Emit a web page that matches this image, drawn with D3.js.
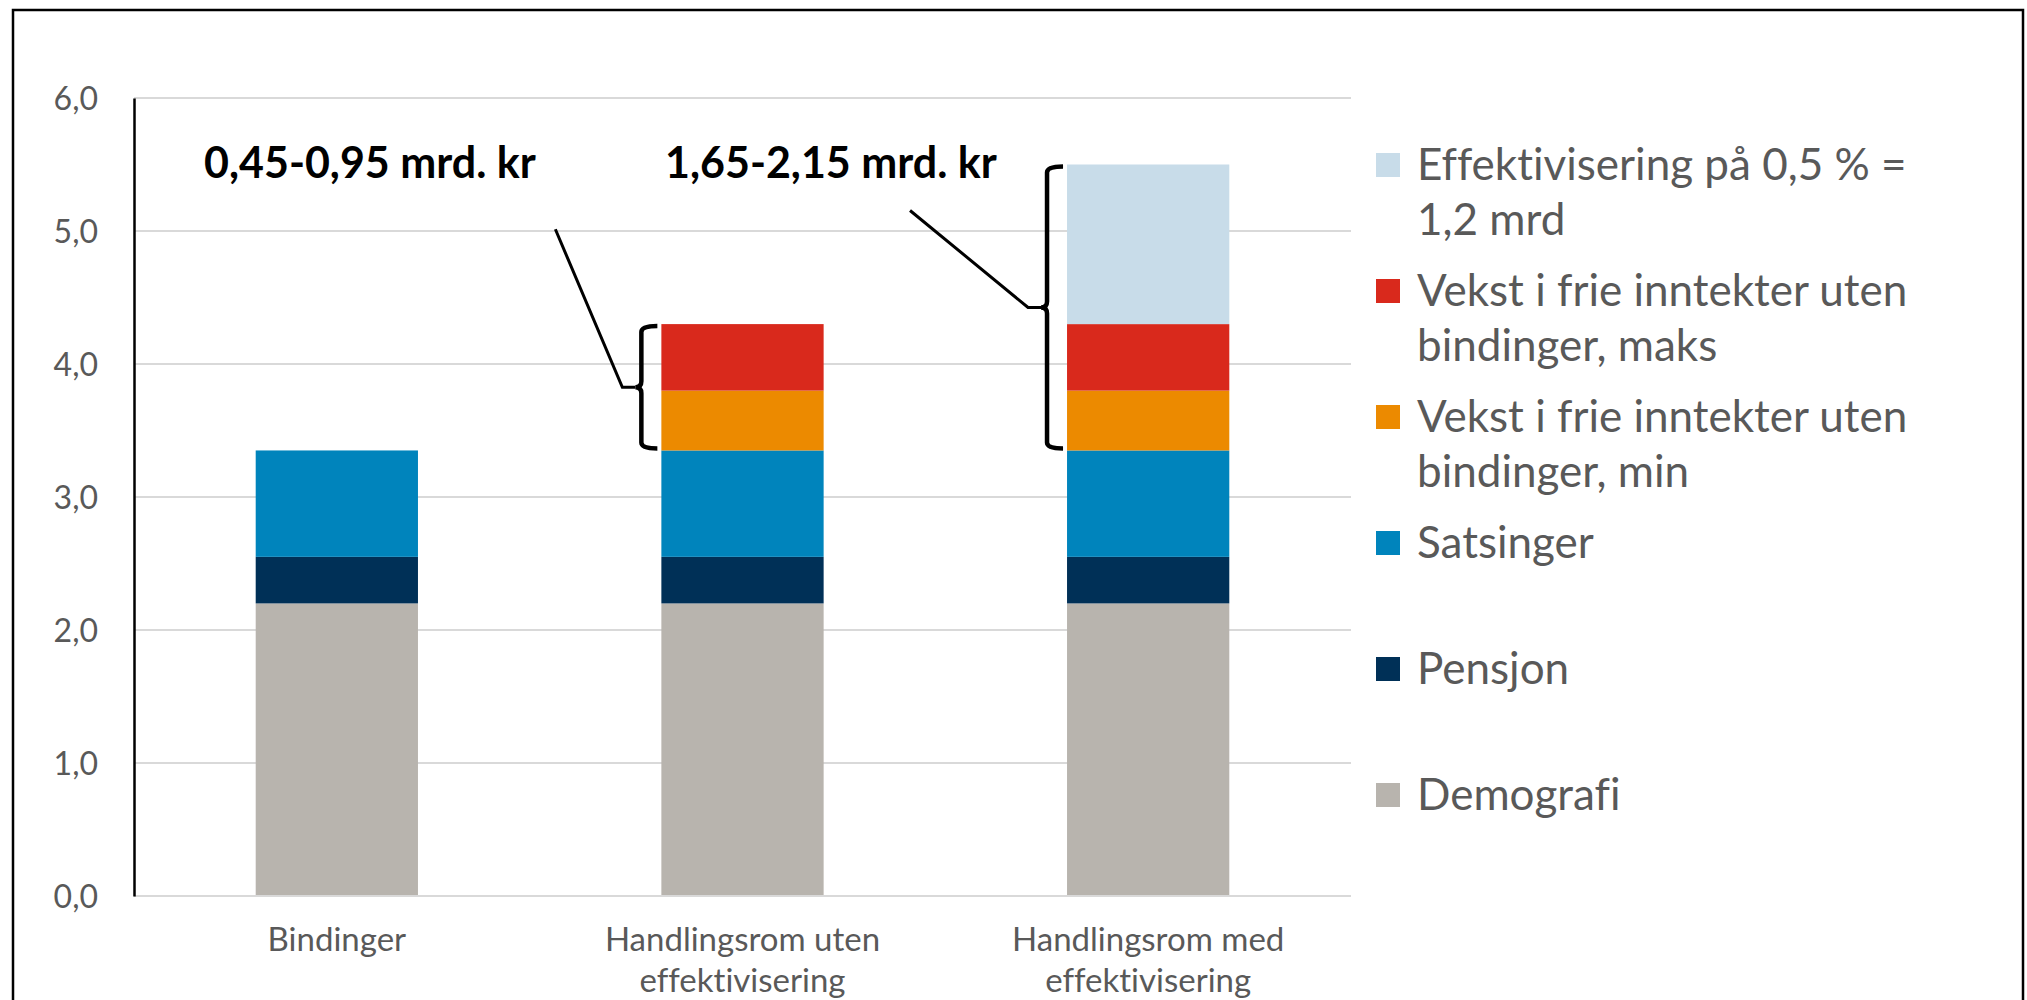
<!DOCTYPE html>
<html>
<head>
    <style>
        body {
            margin: 0;
            background: #fff;
        }
        text {
            font-family: Lato, "Open Sans", sans-serif;
            font-variant-ligatures: none;
        }
        .tick text {
            font-size: 32px;
            fill: #595959;
        }
        .cat text {
            font-size: 33px;
            fill: #595959;
            text-anchor: middle;
        }
        .legend text {
            font-size: 44px;
            fill: #595959;
        }
        .note {
            font-size: 43px;
            font-weight: bold;
            fill: #000;
        }
        .grid line {
            stroke: #d9d9d9;
            stroke-width: 2;
        }
    </style>
    <script src="https://d3js.org/d3.v7.min.js"></script>
</head>
<body>
    <svg width="2027" height="1000"></svg>

    <script>
        // data (mrd. kr)
        var categories = ["Bindinger", "Handlingsrom uten effektivisering", "Handlingsrom med effektivisering"];
        var categoryLines = [["Bindinger"], ["Handlingsrom uten", "effektivisering"], ["Handlingsrom med", "effektivisering"]];

        var demografi = [2.2, 2.2, 2.2];
        var pensjon = [0.35, 0.35, 0.35];
        var satsinger = [0.8, 0.8, 0.8];
        var vekstMin = [0, 0.45, 0.45];
        var vekstMaks = [0, 0.5, 0.5];
        var effektivisering = [0, 0, 1.2];

        var seriesKeys = ["demografi", "pensjon", "satsinger", "vekstMin", "vekstMaks", "effektivisering"];
        var seriesColors = ["#b8b4ae", "#003057", "#0084bc", "#ec8a00", "#d9291c", "#c8dce9"];
        // legend goes top to bottom, reverse of stacking order
        var legendLines = [
            ["Effektivisering på 0,5 % =", "1,2 mrd"],
            ["Vekst i frie inntekter uten", "bindinger, maks"],
            ["Vekst i frie inntekter uten", "bindinger, min"],
            ["Satsinger"],
            ["Pensjon"],
            ["Demografi"]
        ];

        var yTicks = [0, 1, 2, 3, 4, 5, 6];

        // brackets: category index, first and last series covered, label
        var notes = [
            { cat: 1, from: 3, to: 4, label: "0,45-0,95 mrd. kr" },
            { cat: 2, from: 3, to: 5, label: "1,65-2,15 mrd. kr" }
        ];

        var svg = d3.select("svg");

        // outer frame
        svg.append("rect")
           .attr("x", 13).attr("y", 10)
           .attr("width", 2010).attr("height", 1010)
           .attr("fill", "none")
           .attr("stroke", "#000")
           .attr("stroke-width", 2.5);

        var plotLeft = 134, plotRight = 1351, plotTop = 98, plotBottom = 896;

        var x = d3.scaleBand()
                  .domain(categories)
                  .range([plotLeft, plotRight])
                  .paddingInner(0.6)
                  .paddingOuter(0.3);

        var y = d3.scaleLinear()
                  .domain([0, 6])
                  .range([plotBottom, plotTop]);

        var table = categories.map(function(c, i) {
            return {
                cat: c,
                demografi: demografi[i],
                pensjon: pensjon[i],
                satsinger: satsinger[i],
                vekstMin: vekstMin[i],
                vekstMaks: vekstMaks[i],
                effektivisering: effektivisering[i]
            };
        });

        var stacked = d3.stack().keys(seriesKeys)(table);

        // gridlines
        svg.append("g")
           .attr("class", "grid")
           .selectAll("line")
           .data(yTicks)
           .enter().append("line")
           .attr("x1", plotLeft).attr("x2", plotRight)
           .attr("y1", function(d) { return y(d); })
           .attr("y2", function(d) { return y(d); });

        // bars
        svg.append("g")
           .selectAll("g")
           .data(stacked)
           .enter().append("g")
           .attr("fill", function(d, i) { return seriesColors[i]; })
           .selectAll("rect")
           .data(function(d) { return d; })
           .enter().append("rect")
           .attr("x", function(d) { return x(d.data.cat); })
           .attr("width", x.bandwidth())
           .attr("y", function(d) { return y(d[1]); })
           .attr("height", function(d) { return y(d[0]) - y(d[1]); });

        // baseline on top of bars
        svg.append("line")
           .attr("x1", plotLeft).attr("x2", plotRight)
           .attr("y1", y(0)).attr("y2", y(0))
           .attr("stroke", "#d9d9d9")
           .attr("stroke-width", 2);

        // y axis
        var yAxis = d3.axisLeft(y)
                      .tickValues(yTicks)
                      .tickSize(0)
                      .tickPadding(36)
                      .tickFormat(function(d) { return d3.format(".1f")(d).replace(".", ","); });

        var ya = svg.append("g")
                    .attr("transform", "translate(" + plotLeft + ",0)")
                    .call(yAxis);
        ya.select(".domain").attr("stroke", "#000").attr("stroke-width", 2.5);
        ya.selectAll(".tick text").attr("dy", "0.36em");
        ya.attr("font-size", null).attr("font-family", null);

        // category labels
        var cat = svg.append("g")
                     .attr("class", "cat")
                     .selectAll("text")
                     .data(categories)
                     .enter().append("text")
                     .attr("x", function(d) { return x(d) + x.bandwidth() / 2; })
                     .attr("y", 951);
        cat.selectAll("tspan")
           .data(function(d, i) { return categoryLines[i]; })
           .enter().append("tspan")
           .attr("x", function() { return d3.select(this.parentNode).attr("x"); })
           .attr("dy", function(d, i) { return i ? 41 : 0; })
           .text(function(d) { return d; });

        // legend
        var legend = svg.append("g")
                        .attr("class", "legend")
                        .selectAll("g")
                        .data(legendLines)
                        .enter().append("g")
                        .attr("transform", function(d, i) { return "translate(1376," + (165 + i * 126) + ")"; });

        legend.append("rect")
              .attr("x", 0).attr("y", -12)
              .attr("width", 24).attr("height", 24)
              .attr("fill", function(d, i) { return seriesColors[seriesColors.length - 1 - i]; });

        legend.append("text")
              .attr("x", 41)
              .attr("y", 15)
              .selectAll("tspan")
              .data(function(d) { return d; })
              .enter().append("tspan")
              .attr("x", 41)
              .attr("dy", function(d, i) { return i ? 55 : 0; })
              .text(function(d) { return d; });

        // brackets with leader lines and labels
        var leaders = [[[-80, -158], [-13, 0]], [[-131, -97], [-13, 0]]];
        var labelX = [204, 665];

        notes.forEach(function(n, k) {
            var bx = x(categories[n.cat]);
            var yTop = y(stacked[n.to][n.cat][1]) + 2;
            var yBot = y(stacked[n.from][n.cat][0]) - 2;
            var yMid = (yTop + yBot) / 2;
            var xv = bx - 20, xh = bx - 4, xn = bx - 26, r = 6;

            svg.append("path")
               .attr("d", "M" + xh + "," + yTop +
                          " Q" + xv + "," + yTop + " " + xv + "," + (yTop + r) +
                          " L" + xv + "," + (yMid - r) +
                          " Q" + xv + "," + yMid + " " + xn + "," + yMid +
                          " Q" + xv + "," + yMid + " " + xv + "," + (yMid + r) +
                          " L" + xv + "," + (yBot - r) +
                          " Q" + xv + "," + yBot + " " + xh + "," + yBot)
               .attr("fill", "none")
               .attr("stroke", "#000")
               .attr("stroke-width", 4.5);

            var l = leaders[k];
            svg.append("path")
               .attr("d", "M" + (xn + l[0][0]) + "," + (yMid + l[0][1]) +
                          " L" + (xn + l[1][0]) + "," + yMid +
                          " L" + xn + "," + yMid)
               .attr("fill", "none")
               .attr("stroke", "#000")
               .attr("stroke-width", 3);

            svg.append("text")
               .attr("class", "note")
               .attr("x", labelX[k])
               .attr("y", 178)
               .text(n.label);
        });
    </script>
</body>
</html>
